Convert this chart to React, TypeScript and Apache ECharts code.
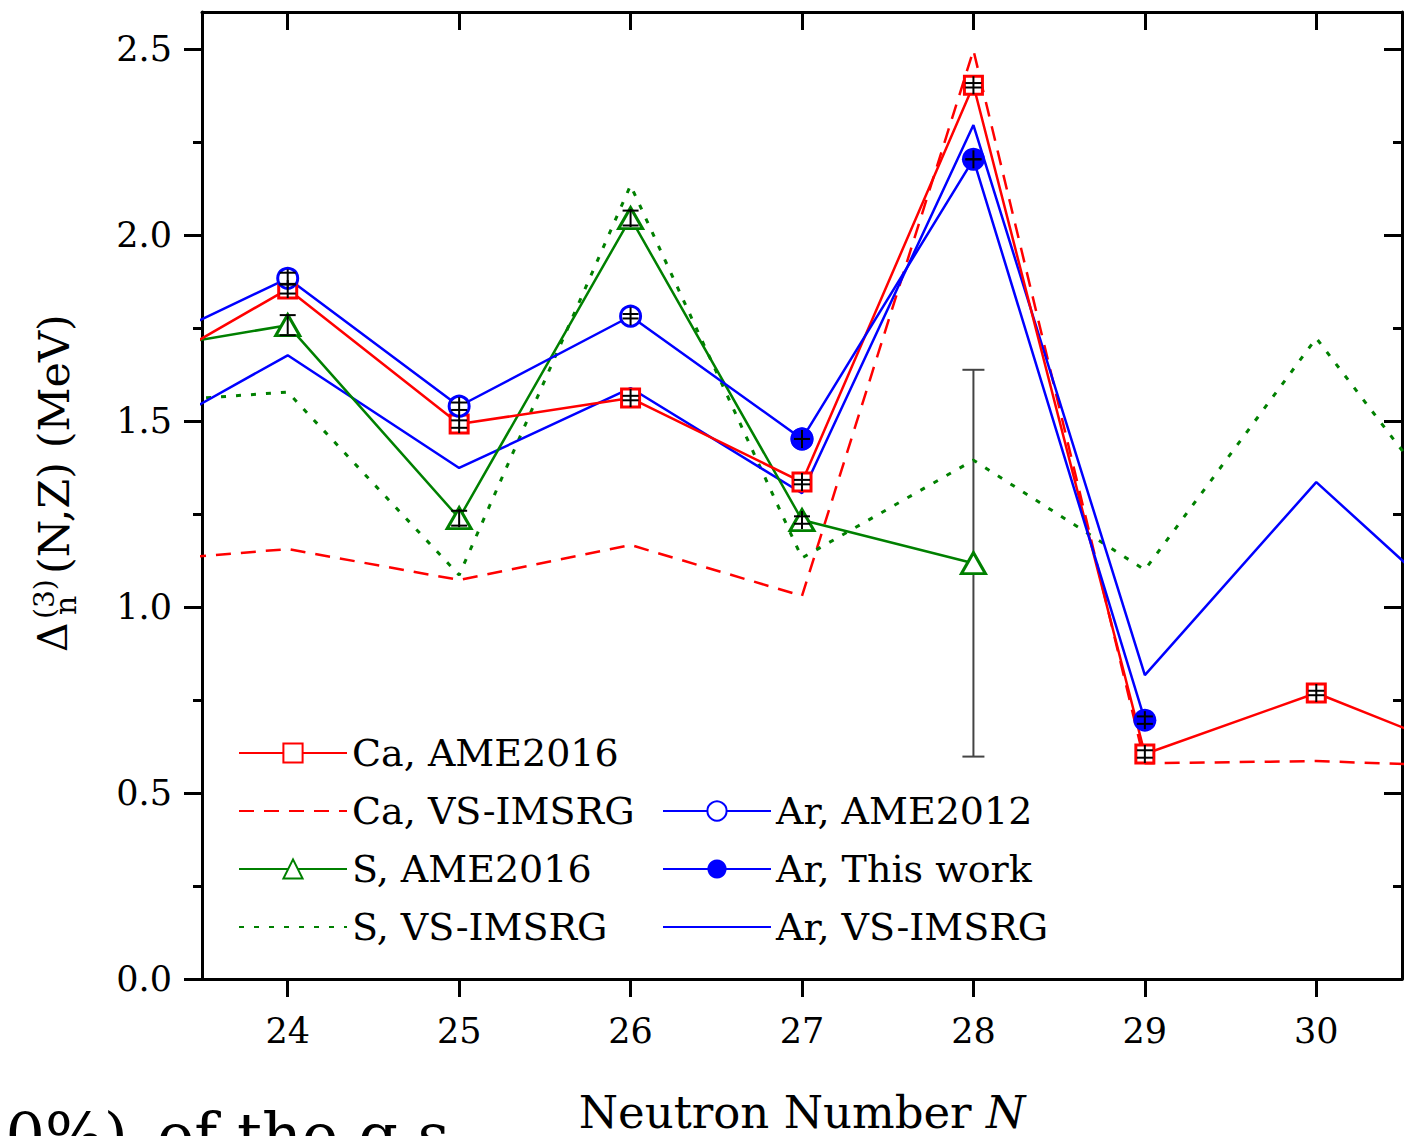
import React, { useEffect, useRef } from "react";
import * as echarts from "echarts";

const FONT = "DejaVu Serif";
const RED = "#ff0000";
const GREEN = "#008000";
const BLUE = "#0000ff";
const NONE = "rgba(0,0,0,0)";

const xTicks = [24, 25, 26, 27, 28, 29, 30];
const yMajor = [0, 0.5, 1.0, 1.5, 2.0, 2.5];
const yMinor = [0.25, 0.75, 1.25, 1.75, 2.25];

// [N, value]
const caAme2016 = [[23, 1.59], [24, 1.855], [25, 1.492], [26, 1.562], [27, 1.336], [28, 2.403], [29, 0.605], [30, 0.769], [31, 0.585]];
const caVs = [[23, 1.118], [24, 1.156], [25, 1.073], [26, 1.167], [27, 1.03], [28, 2.497], [29, 0.58], [30, 0.586], [31, 0.57]];
const sAme2016 = [[23, 1.68], [24, 1.758], [25, 1.239], [26, 2.046], [27, 1.234], [28, 1.118]];
const sVs = [[23, 1.546], [24, 1.578], [25, 1.086], [26, 2.134], [27, 1.132], [28, 1.395], [29, 1.1], [30, 1.723], [31, 1.12]];
const arAme2012 = [[23, 1.664], [24, 1.884], [25, 1.54], [26, 1.782], [27, 1.452]];
const arThisWork = [[27, 1.452], [28, 2.204], [29, 0.696]];
const arVs = [[23, 1.419], [24, 1.677], [25, 1.374], [26, 1.589], [27, 1.306], [28, 2.296], [29, 0.817], [30, 1.336], [31, 0.916]];

// uncertainties [N, value, err]
const smallErrors = [
  [24, 1.855, 0.012], [25, 1.492, 0.01], [26, 1.562, 0.006], [27, 1.336, 0.006], [28, 2.403, 0.006], [29, 0.605, 0.01], [30, 0.769, 0.006],
  [24, 1.884, 0.015], [25, 1.54, 0.01], [26, 1.782, 0.006],
  [24, 1.758, 0.027], [25, 1.239, 0.02], [26, 2.046, 0.02], [27, 1.234, 0.01],
  [27, 1.452, 0.0], [28, 2.204, 0.0], [29, 0.696, 0.01],
];
const bigErrors = [[28, 1.118, 0.52]];

const legendLeft = ["Ca, AME2016", "Ca, VS-IMSRG", "S, AME2016", "S, VS-IMSRG"];
const legendRight = ["Ar, AME2012", "Ar, This work", "Ar, VS-IMSRG"];

export default function App() {
  const ref = useRef<HTMLDivElement>(null);
  useEffect(() => {
    if (!ref.current) return;
    const chart = echarts.init(ref.current, undefined, { renderer: "svg" });
    const tickFmt = (v: number) => v.toFixed(1);
    const baseY = { type: "value", min: 0, max: 2.6, splitLine: { show: false } };
    const option: any = {
      animation: false,
      backgroundColor: "#ffffff",
      grid: { left: 202, right: 15, top: 12, bottom: 157, containLabel: false, outerBoundsMode: "none" },
      xAxis: [
        {
          type: "value", position: "bottom", min: 23.5, max: 30.5,
          splitLine: { show: false },
          axisLine: { onZero: false, lineStyle: { color: "#000", width: 3 } },
          axisTick: { customValues: xTicks, length: 18, inside: false, lineStyle: { color: "#000", width: 3 } },
          axisLabel: { customValues: xTicks, margin: 34, fontSize: 35, fontFamily: FONT, color: "#000" },
          name: "Neutron Number {i|N}",
          nameLocation: "middle",
          nameGap: 111,
          nameTextStyle: {
            fontSize: 45, fontFamily: FONT, color: "#000",
            rich: { i: { fontStyle: "italic", fontSize: 45, fontFamily: FONT, color: "#000" } },
          },
        },
        {
          type: "value", position: "top", min: 23.5, max: 30.5,
          splitLine: { show: false },
          axisLine: { onZero: false, lineStyle: { color: "#000", width: 3 } },
          axisTick: { customValues: xTicks, length: 18, inside: true, lineStyle: { color: "#000", width: 3 } },
          axisLabel: { show: false },
        },
      ],
      yAxis: [
        {
          ...baseY, position: "left",
          axisLine: { show: true, onZero: false, lineStyle: { color: "#000", width: 3 } },
          axisTick: { show: true, customValues: yMajor, length: 18, inside: false, lineStyle: { color: "#000", width: 3 } },
          axisLabel: { customValues: yMajor, formatter: tickFmt, margin: 30, fontSize: 35, fontFamily: FONT, color: "#000" },
        },
        {
          ...baseY, position: "left",
          axisLine: { show: false },
          axisTick: { show: true, customValues: yMinor, length: 9, inside: false, lineStyle: { color: "#000", width: 3 } },
          axisLabel: { show: false },
        },
        {
          ...baseY, position: "right",
          axisLine: { show: true, onZero: false, lineStyle: { color: "#000", width: 3 } },
          axisTick: { show: true, customValues: yMajor, length: 18, inside: true, lineStyle: { color: "#000", width: 3 } },
          axisLabel: { show: false },
        },
        {
          ...baseY, position: "right",
          axisLine: { show: false },
          axisTick: { show: true, customValues: yMinor, length: 9, inside: true, lineStyle: { color: "#000", width: 3 } },
          axisLabel: { show: false },
        },
      ],
      legend: [
        {
          data: legendLeft, orient: "vertical", left: 238, top: 733, padding: 0,
          itemWidth: 108, itemHeight: 24, itemGap: 18,
          textStyle: { fontSize: 38, fontFamily: FONT, color: "#000", lineHeight: 40 },
        },
        {
          data: legendRight, orient: "vertical", left: 662, top: 791, padding: 0,
          itemWidth: 108, itemHeight: 24, itemGap: 18,
          textStyle: { fontSize: 38, fontFamily: FONT, color: "#000", lineHeight: 40 },
        },
      ],
      series: [
        {
          name: "big-error", type: "custom", z: 1, data: bigErrors, encode: { x: 0, y: 1 },
          renderItem: (params: any, api: any) => {
            const x = api.value(0), y = api.value(1), e = api.value(2);
            const top = api.coord([x, y + e]);
            const bot = api.coord([x, y - e]);
            const s = { stroke: "#444", lineWidth: 2 };
            return {
              type: "group", children: [
                { type: "line", shape: { x1: top[0], y1: top[1], x2: bot[0], y2: bot[1] }, style: s },
                { type: "line", shape: { x1: top[0] - 11, y1: top[1], x2: top[0] + 11, y2: top[1] }, style: s },
                { type: "line", shape: { x1: bot[0] - 11, y1: bot[1], x2: bot[0] + 11, y2: bot[1] }, style: s },
              ],
            };
          },
        },
        {
          name: "Ca, VS-IMSRG", type: "line", data: caVs, symbol: "circle", showSymbol: false, z: 2,
          itemStyle: { color: NONE, borderColor: NONE },
          lineStyle: { color: RED, width: 2.5, type: [15, 10] },
        },
        {
          name: "S, VS-IMSRG", type: "line", data: sVs, symbol: "circle", showSymbol: false, z: 2,
          itemStyle: { color: NONE, borderColor: NONE },
          lineStyle: { color: GREEN, width: 3, type: [5, 10] },
        },
        {
          name: "Ar, VS-IMSRG", type: "line", data: arVs, symbol: "circle", showSymbol: false, z: 2,
          itemStyle: { color: NONE, borderColor: NONE },
          lineStyle: { color: BLUE, width: 2.5 },
        },
        {
          name: "S, AME2016", type: "line", data: sAme2016, symbol: "triangle", symbolSize: [24, 21], z: 3,
          itemStyle: { color: "#fff", borderColor: GREEN, borderWidth: 3 },
          lineStyle: { color: GREEN, width: 2.5 },
        },
        {
          name: "Ca, AME2016", type: "line", data: caAme2016, symbol: "rect", symbolSize: 18, z: 3,
          itemStyle: { color: "#fff", borderColor: RED, borderWidth: 3 },
          lineStyle: { color: RED, width: 2.5 },
        },
        {
          name: "Ar, AME2012", type: "line", data: arAme2012, symbol: "circle", symbolSize: 20, z: 3,
          itemStyle: { color: "#fff", borderColor: BLUE, borderWidth: 3 },
          lineStyle: { color: BLUE, width: 2.5 },
        },
        {
          name: "Ar, This work", type: "line", data: arThisWork, symbol: "circle", symbolSize: 23, z: 4,
          itemStyle: { color: BLUE, borderColor: BLUE, borderWidth: 0 },
          lineStyle: { color: BLUE, width: 2.5 },
        },
        {
          name: "small-error", type: "custom", z: 5, data: smallErrors, encode: { x: 0, y: 1 },
          renderItem: (params: any, api: any) => {
            const x = api.value(0), y = api.value(1), e = api.value(2);
            const c = api.coord([x, y]);
            const t = api.coord([x, y + e])[1];
            const b = api.coord([x, y - e])[1];
            const s = { stroke: "#000", lineWidth: 2 };
            return {
              type: "group", children: [
                { type: "line", shape: { x1: c[0], y1: c[1] - 9, x2: c[0], y2: c[1] + 9 }, style: s },
                { type: "line", shape: { x1: c[0] - 8, y1: t, x2: c[0] + 8, y2: t }, style: s },
                { type: "line", shape: { x1: c[0] - 8, y1: b, x2: c[0] + 8, y2: b }, style: s },
              ],
            };
          },
        },
      ],
      graphic: [
        {
          type: "group", x: 0, y: 652, rotation: Math.PI / 2,
          children: [
            { type: "text", x: 0, y: 53, style: { text: "Δ", font: `41px "${FONT}"`, fill: "#000", verticalAlign: "middle", align: "left" } },
            { type: "text", x: 33, y: 44, style: { text: "(3)", font: `28px "${FONT}"`, fill: "#000", verticalAlign: "middle", align: "left" } },
            { type: "text", x: 37, y: 65, style: { text: "n", font: `30px "${FONT}"`, fill: "#000", verticalAlign: "middle", align: "left" } },
            { type: "text", x: 78, y: 54, style: { text: "(N,Z) (MeV)", font: `43px "${FONT}"`, fill: "#000", verticalAlign: "middle", align: "left" } },
          ],
        },
        { type: "text", x: 128, y: 1135, style: { text: "0%)", font: `62px "${FONT}"`, fill: "#000", align: "right", verticalAlign: "middle" } },
        { type: "text", x: 157, y: 1135, style: { text: "of the g.s.", font: `62px "${FONT}"`, fill: "#000", align: "left", verticalAlign: "middle" } },
      ],
    };
    chart.setOption(option);
    return () => chart.dispose();
  }, []);
  return <div ref={ref} style={{ position: "absolute", left: 0, top: 0, width: 1417, height: 1136, background: "#fff" }} />;
}
